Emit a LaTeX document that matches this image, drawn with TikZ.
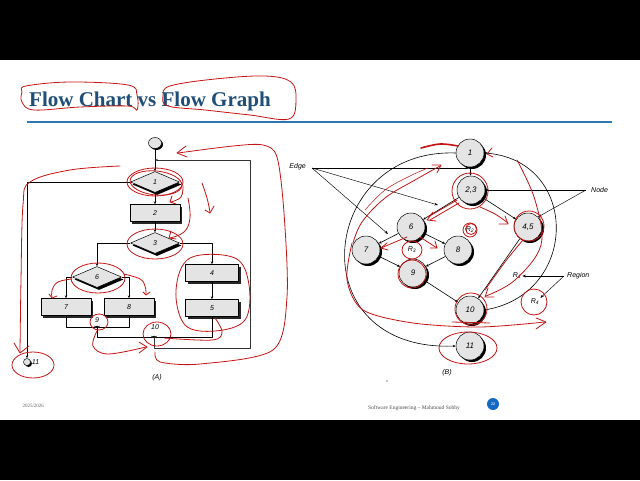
\documentclass[tikz,border=0pt]{standalone}
\usepackage{fontspec}
\setmainfont{Liberation Serif}
\setsansfont{Liberation Sans}
\usetikzlibrary{shapes.geometric,shadows,arrows.meta}
\definecolor{boxgray}{HTML}{E4E4E4}
\definecolor{titleblue}{HTML}{1F4E79}
\definecolor{lineblue}{HTML}{2E75B6}
\definecolor{ink}{HTML}{C41414}
\definecolor{pageblue}{HTML}{1469C4}
\begin{document}
\begin{tikzpicture}[x=1pt,y=-1pt,line join=round,
  lbl/.style={font=\sffamily\itshape\fontsize{7}{8}\selectfont, inner sep=1pt},
  fcbox/.style={rectangle, draw, line width=0.5pt, fill=boxgray, minimum width=50pt, minimum height=17pt, inner sep=0pt,
     drop shadow={shadow xshift=2pt, shadow yshift=-2.5pt, fill=black!85, opacity=1}, lbl},
  fcdia/.style={diamond, draw, line width=0.5pt, fill=boxgray, aspect=2.33, minimum width=49pt, minimum height=21pt, inner sep=0pt,
     drop shadow={shadow xshift=2pt, shadow yshift=-2.5pt, fill=black, opacity=1}, lbl},
  gnode/.style={circle, draw, line width=0.5pt, fill=boxgray, minimum size=28pt, inner sep=0pt,
     drop shadow={shadow xshift=2pt, shadow yshift=-2pt, fill=black, opacity=1}, font=\sffamily\itshape\fontsize{8}{9}\selectfont},
  fcline/.style={line width=0.6pt},
  arr/.style={fcline, -{Stealth[length=3pt,width=2.4pt]}},
  ann/.style={line width=0.45pt, -{Stealth[length=3.5pt,width=2.6pt]}},
  redink/.style={draw=ink, line width=0.8pt, line cap=round}]
\useasboundingbox (0,0) rectangle (640,480);
\fill[white] (0,0) rectangle (640,480);
\fill[black] (0,0) rectangle (640,60);
\fill[black] (0,420) rectangle (640,480);

% title
\node[anchor=base west, inner sep=0pt, font=\bfseries\fontsize{21}{24}\selectfont, text=titleblue] (title) at (29,106) {Flow Chart vs Flow Graph};
\draw[lineblue, line width=2pt] (27,122) -- (612,122);

% ---------- flow chart (A)
\node[ellipse, draw, line width=0.5pt, fill=boxgray, minimum width=13pt, minimum height=11pt, inner sep=0pt,
   drop shadow={shadow xshift=1.5pt, shadow yshift=-1.5pt, fill=black, opacity=1}] (st) at (155,143) {};
\node[fcdia] (d1) at (155,182) {1};
\node[fcbox] (b2) at (155,213) {2};
\node[fcdia] (d3) at (155,243) {3};
\node[fcdia] (d6) at (97,277) {6};
\node[fcbox, minimum width=53pt] (b4) at (212,273) {4};
\node[fcbox, minimum width=53pt] (b5) at (212,308) {5};
\node[fcbox] (b7) at (66,307) {7};
\node[fcbox] (b8) at (129,307) {8};
\coordinate (j9) at (97,327);
\coordinate (j10) at (154,337);
\coordinate (jt) at (155,160);
\coordinate (lp) at (250,348);
\node[circle, draw, line width=0.5pt, fill=boxgray, minimum size=7pt, inner sep=0pt,
   drop shadow={shadow xshift=1.5pt, shadow yshift=-1.5pt, fill=black, opacity=1}] (n11) at (27,362) {};
\node[lbl, anchor=west] (t11) at (n11.east) {11};
\fill (j9) circle (1.3);
\fill (j10) circle (1.3);
\node[lbl] (t9) at (97,320) {9};
\node[lbl] (t10) at (155,327) {10};
\node[lbl] (capA) at (157,378) {(A)};

\draw[fcline] (st) -- (jt);
\draw[arr] (jt) -- (d1.north);
\draw[arr] (d1.south) -- (b2.north);
\draw[arr] (b2.south) -- (d3.north);
\draw[arr] (d1.west) -| (n11.north);
\draw[arr] (d3.west) -| (d6.north);
\draw[arr] (d3.east) -| (b4.north);
\draw[arr] (b4.south) -- (b5.north);
\draw[arr] (d6.west) -| (b7.north);
\draw[arr] (d6.east) -| (b8.north);
\draw[arr] (b7.south) |- (j9);
\draw[arr] (b8.south) |- (j9);
\draw[arr] (j9) |- (j10);
\draw[arr] (b5.south) |- (j10);
\draw[arr, line width=1pt, draw=black!80] (j10) |- (lp) |- (jt);

% ---------- flow graph (B)
\node[gnode] (g1) at (470,153) {1};
\node[gnode] (g23) at (471,190) {2,3};
\node[gnode] (g6) at (411,227) {6};
\node[gnode] (g45) at (528,227) {4,5};
\node[gnode] (g7) at (366,250) {7};
\node[gnode] (g8) at (458,250) {8};
\node[gnode] (g9) at (413,273) {9};
\node[gnode] (g10) at (470,310) {10};
\node[gnode] (g11) at (470,346) {11};

\draw[arr] (g1) -- (g23);
\draw[arr] (g23) -- (g6);
\draw[arr] (g23) -- (g45);
\draw[arr] (g6) -- (g7);
\draw[arr] (g6) -- (g8);
\draw[arr] (g7) -- (g9);
\draw[arr] (g8) -- (g9);
\draw[arr] (g9) -- (g10);
\draw[arr] (g45) -- (g10);
\draw[arr] (g10.east) .. controls (580,295) and (580,160) .. (g1.east);
\draw[arr] (g1.west) .. controls (318,148) and (298,352) .. (g11.west);

\node[lbl] (r1) at (517,276) {R\textsubscript{1}};
\node[lbl] (r2) at (470,230) {R\textsubscript{2}};
\node[lbl] (r3) at (412,250) {R\textsubscript{3}};
\node[lbl] (r4) at (535,302) {R\textsubscript{4}};

\node[lbl, anchor=east] (edge) at (307,167) {Edge};
\coordinate (ea) at (312,168);
\coordinate (e1) at (469,168);
\coordinate (e2) at (438,205);
\coordinate (e3) at (388,234);
\draw[ann] (ea) -- (e1);
\draw[ann] (ea) -- (e2);
\draw[ann] (ea) -- (e3);
\node[lbl, anchor=west] (nodet) at (590,190) {Node};
\coordinate (na) at (586,190);
\draw[ann] (na) -- (g23.east);
\draw[ann] (na) -- (g45.north east);
\node[lbl, anchor=west] (regt) at (566,276) {Region};
\coordinate (ra) at (564,276);
\draw[ann] (ra) -- (r1.east);
\draw[ann] (ra) -- (r4.north east);
\node[lbl] (capB) at (447,373) {(B)};
\fill (387,381) circle (0.6);

% ---------- footer
\node[font=\fontsize{5}{6}\selectfont, text=black!60, anchor=west] (date) at (19,406) {2025/2026};
\node[font=\fontsize{5.5}{6}\selectfont, text=black!70] (foot) at (414,408) {Software Engineering -- Mahmoud Sobhy};
\node[circle, fill=pageblue, minimum size=12pt, inner sep=0pt, text=white, font=\bfseries\fontsize{4}{5}\selectfont] (pg) at (493,404) {22};

% ---------- red annotations
% title
\draw[redink] plot[smooth cycle, tension=0.6] coordinates {(26,86) (70,82) (128,85) (137,95) (137,110) (128,106) (80,107) (34,110) (22,102) (22,92)};
\draw[redink] plot[smooth cycle, tension=0.6] coordinates {(170,86) (215,79) (265,76) (291,82) (296,100) (289,119) (250,115) (205,110) (168,106) (163,96)};
% flow chart
\draw[redink] plot[smooth, tension=0.6] coordinates {(120,166) (70,170) (30,182) (23,205) (21,280) (20,352)};
\draw[redink] (14,343) -- (20,353) -- (29,346);
\draw[redink] (33,365) ellipse (21 and 13);
\draw[redink] (155,182) ellipse (28 and 14);
\draw[redink, rotate around={-6:(156,183)}] (156,183) ellipse (26 and 12);
\draw[redink] plot[smooth, tension=0.7] coordinates {(183,186) (181,197) (171,202)};
\draw[redink] (172,196) -- (170,202) -- (176,204);
\draw[redink] plot[smooth, tension=0.7] coordinates {(188,198) (190,218) (184,232) (170,238)};
\draw[redink] (171,231) -- (169,238) -- (176,239);
\draw[redink] plot[smooth, tension=0.7] coordinates {(202,183) (207,198) (210,212)};
\draw[redink] (205,210) -- (210,213) -- (214,206);
\draw[redink] (155,244) ellipse (28 and 15);
\draw[redink] (98,278) ellipse (27 and 15);
\draw[redink] plot[smooth, tension=0.7] coordinates {(72,279) (58,282) (52,290) (52,297)};
\draw[redink] (49,294) -- (52,298) -- (57,296);
\draw[redink] plot[smooth, tension=0.7] coordinates {(124,274) (140,279) (145,286) (146,294)};
\draw[redink] (143,292) -- (146,295) -- (150,292);
\draw[redink] plot[smooth cycle, tension=0.6] coordinates {(190,258) (235,258) (249,285) (245,320) (215,331) (185,325) (176,290)};
\draw[redink] (99,322) ellipse (9 and 8);
\draw[redink] (157,334) ellipse (14 and 12);
\draw[redink] plot[smooth, tension=0.6] coordinates {(97,331) (93,346) (108,354) (146,347)};
\draw[redink] (139,342) -- (147,347) -- (139,353);
\draw[redink] plot[smooth, tension=0.6] coordinates {(215,318) (222,332) (212,340) (164,338)};
\draw[redink] plot[smooth, tension=0.5] coordinates {(155,352) (160,362) (200,364) (273,350) (287,297) (284,213) (277,157) (263,145) (233,146) (178,153)};
\draw[redink] (186,146) -- (177,153) -- (187,157);
% flow graph
\draw[redink, line width=1.6pt] plot[smooth, tension=0.6] coordinates {(421,148) (440,144) (458,146)};
\draw[redink] (470,191) circle (18);
\draw[redink] (529,226) circle (15);
\draw[redink] (412,274) circle (14);
\draw[redink] (471,309) circle (16);
\draw[redink] (452,322) -- (490,323);
\draw[redink] (468,348) ellipse (29 and 16);
\draw[redink] (470,230) circle (7);
\draw[redink] (471,229) circle (5.5);
\draw[redink] (412,250) ellipse (10 and 9);
\draw[redink] (534,302) circle (13);
\draw[redink] (457,200) -- (428,217);
\draw[redink] (459,203) -- (430,220);
\draw[redink] (433,212) -- (427,220) -- (436,221);
\draw[redink] plot[smooth, tension=0.6] coordinates {(480,207) (495,214) (508,223)};
\draw[redink] (499,224) -- (508,224) -- (505,216);
\draw[redink] (407,237) -- (381,248);
\draw[redink] (387,243) -- (381,248) -- (388,250);
\draw[redink] (420,237) -- (437,248);
\draw[redink] (430,248) -- (437,248) -- (435,241);
\draw[redink] plot[smooth, tension=0.6] coordinates {(353,243) (362,222) (385,198) (415,180) (440,166)};
\draw[redink] (432,165) -- (441,165) -- (437,173);
\draw[redink, line width=0.5pt] plot[smooth, tension=0.6] coordinates {(365,210) (385,190) (410,176) (428,168)};
\draw[redink] plot[smooth, tension=0.5] coordinates {(352,243) (347,280) (363,310) (413,323) (480,327) (545,322)};
\draw[redink] (536,318) -- (546,322) -- (536,329);
\draw[redink] plot[smooth, tension=0.6] coordinates {(517,160) (535,200) (541,245) (515,280) (486,296)};
\draw[redink] (488,288) -- (485,297) -- (494,297);
\draw[redink] plot[smooth, tension=0.6] coordinates {(523,240) (505,262) (485,290)};
\draw[redink] (493,157) -- (487,154) -- (492,148);
\end{tikzpicture}
\end{document}
